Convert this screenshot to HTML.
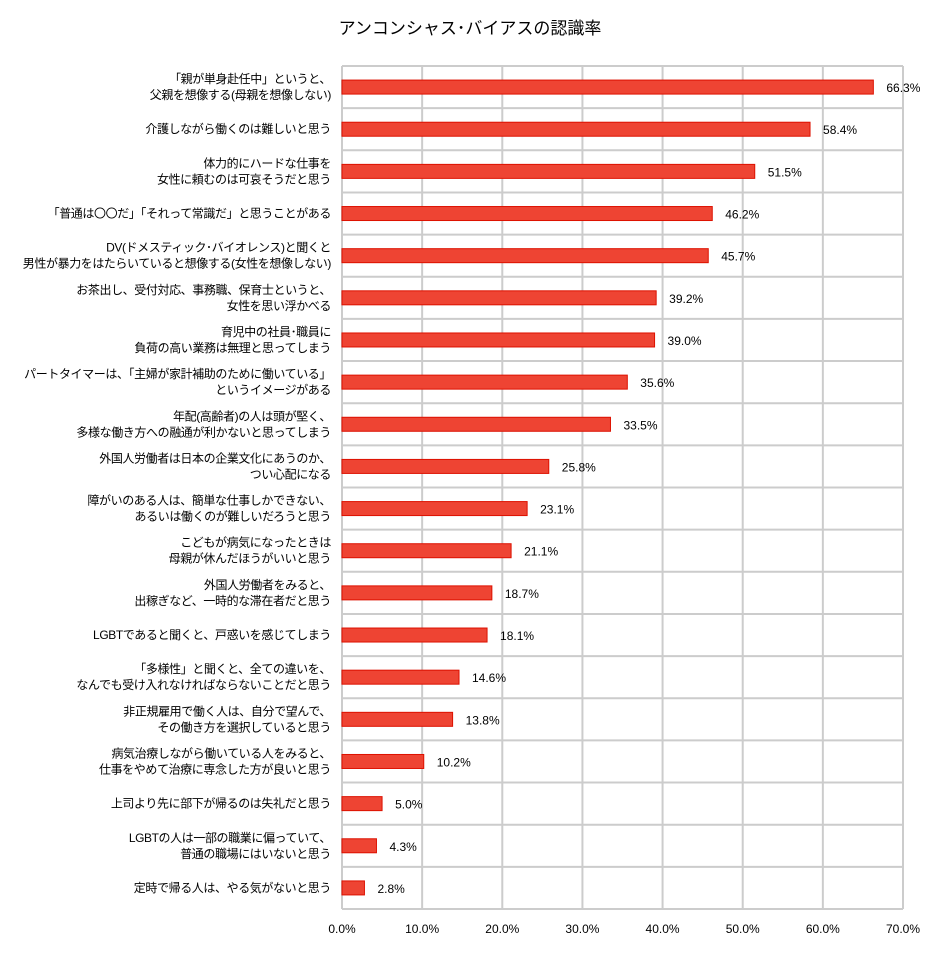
<!DOCTYPE html>
<html><head><meta charset="utf-8"><style>
body{margin:0;background:#fff;}
svg text{font-family:"Liberation Sans","Noto Sans CJK JP",sans-serif;fill:#000;}
.cl{letter-spacing:-0.4px;}
</style></head><body>
<svg width="944" height="949" xmlns="http://www.w3.org/2000/svg">
<text x="470" y="34" font-size="17" text-anchor="middle">アンコンシャス･バイアスの認識率</text>
<g id="grid"></g><g id="bars"></g><g id="labels"></g><g id="xt"></g>
</svg>
<script>
const categories=[
["「親が単身赴任中」というと、","父親を想像する(母親を想像しない)"],
["介護しながら働くのは難しいと思う"],
["体力的にハードな仕事を","女性に頼むのは可哀そうだと思う"],
["「普通は〇〇だ」「それって常識だ」と思うことがある"],
["DV(ドメスティック･バイオレンス)と聞くと","男性が暴力をはたらいていると想像する(女性を想像しない)"],
["お茶出し、受付対応、事務職、保育士というと、","女性を思い浮かべる"],
["育児中の社員･職員に","負荷の高い業務は無理と思ってしまう"],
["パートタイマーは、「主婦が家計補助のために働いている」","というイメージがある"],
["年配(高齢者)の人は頭が堅く、","多様な働き方への融通が利かないと思ってしまう"],
["外国人労働者は日本の企業文化にあうのか、","つい心配になる"],
["障がいのある人は、簡単な仕事しかできない、","あるいは働くのが難しいだろうと思う"],
["こどもが病気になったときは","母親が休んだほうがいいと思う"],
["外国人労働者をみると、","出稼ぎなど、一時的な滞在者だと思う"],
["LGBTであると聞くと、戸惑いを感じてしまう"],
["「多様性」と聞くと、全ての違いを、","なんでも受け入れなければならないことだと思う"],
["非正規雇用で働く人は、自分で望んで、","その働き方を選択していると思う"],
["病気治療しながら働いている人をみると、","仕事をやめて治療に専念した方が良いと思う"],
["上司より先に部下が帰るのは失礼だと思う"],
["LGBTの人は一部の職業に偏っていて、","普通の職場にはいないと思う"],
["定時で帰る人は、やる気がないと思う"]];
const values=[66.3,58.4,51.5,46.2,45.7,39.2,39.0,35.6,33.5,25.8,23.1,21.1,18.7,18.1,14.6,13.8,10.2,5.0,4.3,2.8];
const ticks=[0,10,20,30,40,50,60,70];
const PX0=342,PX1=903,PY0=66,PY1=909,XMAX=70;
const X=v=>PX0+(PX1-PX0)*v/XMAX;
const band=(PY1-PY0)/categories.length;
const NS="http://www.w3.org/2000/svg";
function mk(t,a,p,txt){const e=document.createElementNS(NS,t);for(const k in a)e.setAttribute(k,a[k]);if(txt!==undefined)e.textContent=txt;document.getElementById(p).appendChild(e);return e;}
for(let i=0;i<=categories.length;i++){const y=PY0+i*band;
const l=mk('line',{x1:PX0,x2:PX1,y1:y,y2:y,stroke:'#cccccc','stroke-width':2},'grid');

}
ticks.forEach(t=>{const l=mk('line',{x1:X(t),x2:X(t),y1:PY0,y2:PY1,stroke:'#cccccc','stroke-width':2},'grid');


const tx=mk('text',{x:X(t),y:PY1+24,'font-size':12,'text-anchor':'middle'},'xt',t.toFixed(1)+'%');

});
values.forEach((v,i)=>{const cy=PY0+band*(i+0.5);
const r=mk('rect',{x:PX0,y:cy-7,width:X(v)-PX0,height:14,fill:'#ee4433',stroke:'#dd1100','stroke-width':1},'bars');


const t=mk('text',{x:X(v)+13,y:cy+5,'font-size':12},'bars',v.toFixed(1)+'%');


const lines=categories[i];
lines.forEach((s,j)=>{const yy=cy+4+(j-(lines.length-1)/2)*16;
const c=mk('text',{x:331,y:yy,'font-size':12,'text-anchor':'end','class':'cl'},'labels',s);

});});
</script>
</body></html>
